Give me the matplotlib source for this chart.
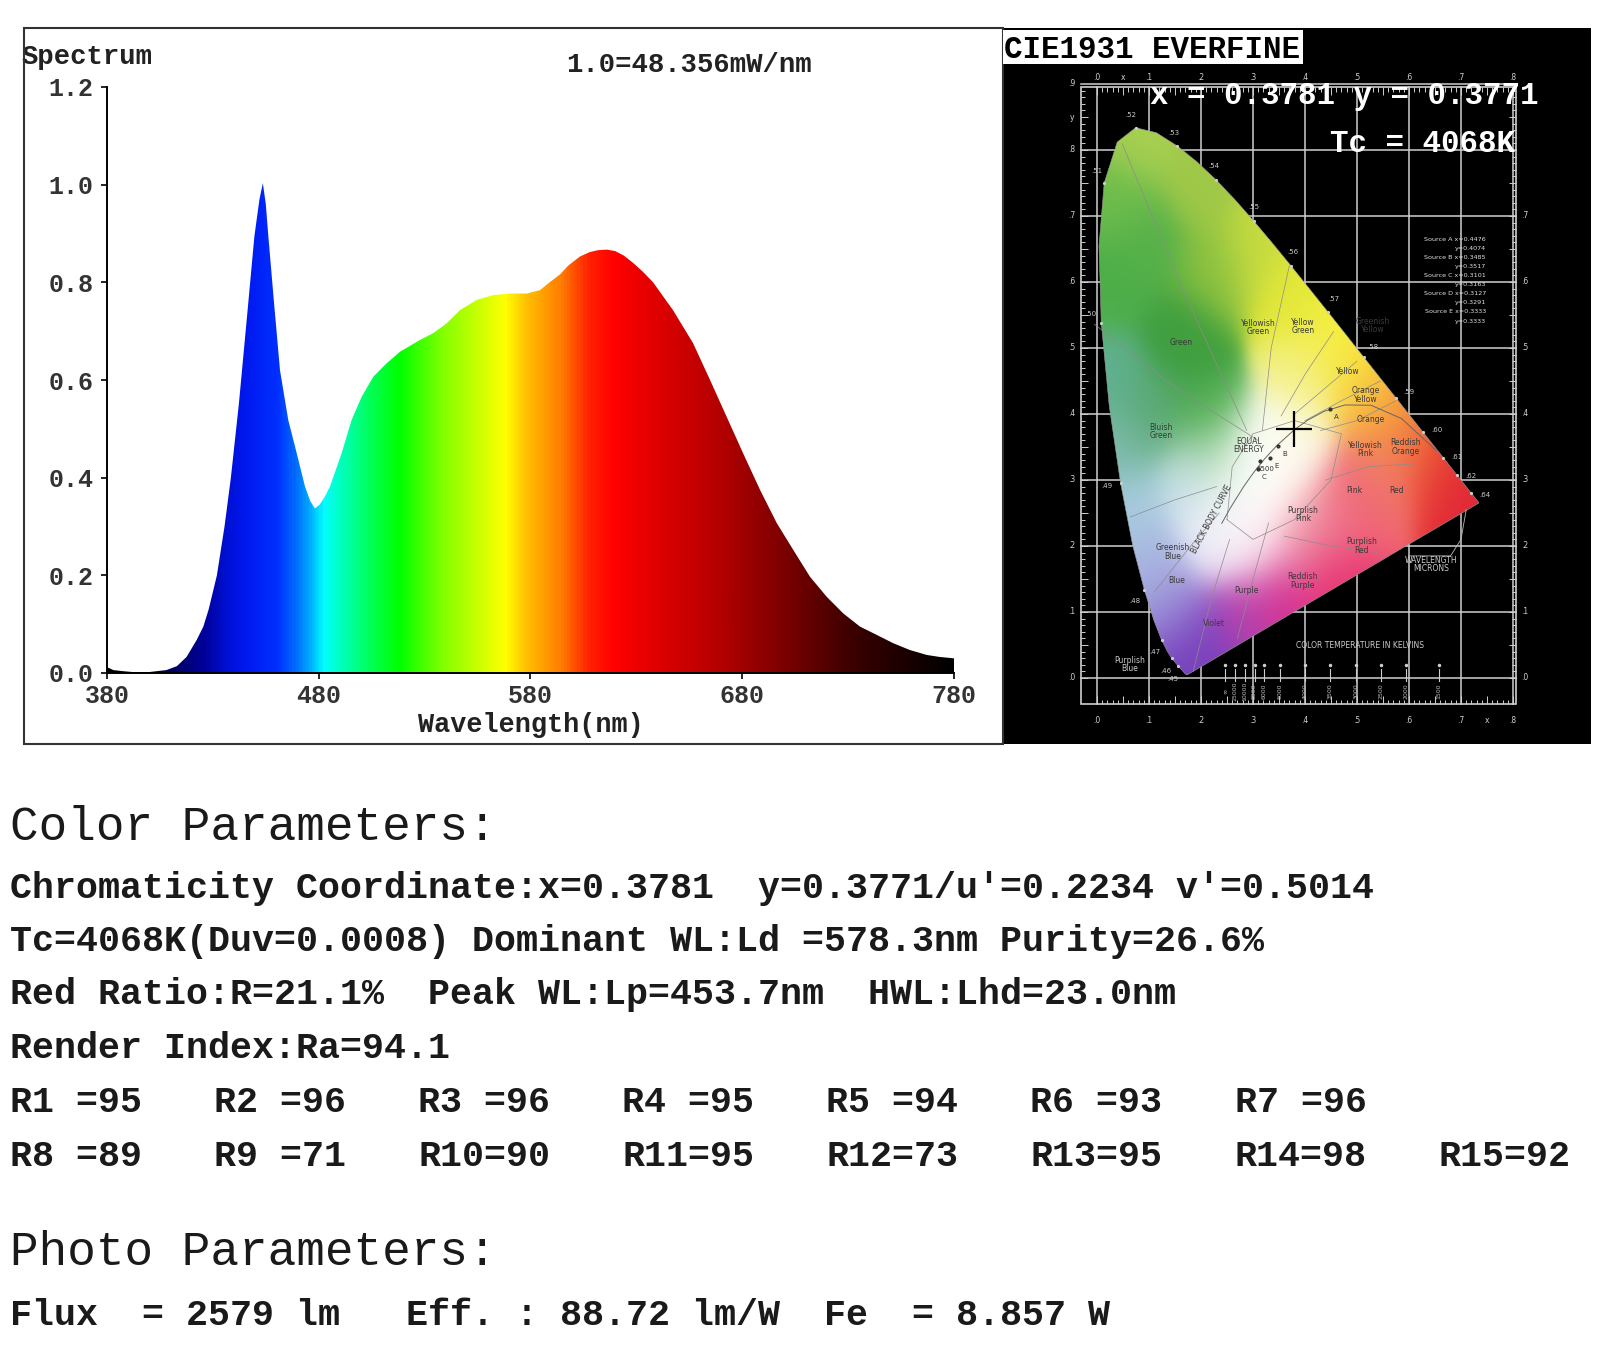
import matplotlib
matplotlib.use("Agg")
import matplotlib.pyplot as plt
import numpy as np
from matplotlib.colors import LinearSegmentedColormap, to_rgb
from matplotlib.patches import Rectangle, Polygon
from matplotlib.collections import LineCollection

# ---------------- spectrum (relative power, 1.0 = 48.356 mW/nm) ----------------
wavelength_nm = [380, 383, 387, 392, 400, 408, 413, 417.6, 422.4, 425.5, 428, 431.9,
                 435.5, 438.5, 442.3, 446.7, 449.6, 452, 453.6, 455, 456.2, 458.9, 461.7,
                 465.6, 469.6, 473.5, 476, 478.2, 480.5, 483, 485.3, 490.8, 495.5,
                 500.3, 505.8, 512, 518.4, 527.8, 534.1, 540.4, 546.7, 554.6, 562.4,
                 570.3, 578.2, 584.5, 589, 593.9, 598, 603.4, 608, 612, 616, 620, 624,
                 628.4, 633, 637.9, 647.3, 656.7, 664.8, 672.6, 680.4, 688.4, 696.3,
                 704.1, 712, 719.9, 727.7, 735.6, 743.5, 751.3, 759.2, 767.1, 773, 780]
relative_power = [0.012, 0.006, 0.004, 0.002, 0.002, 0.006, 0.014, 0.033, 0.068, 0.095,
                  0.13, 0.20, 0.30, 0.40, 0.552, 0.757, 0.894, 0.97, 1.003, 0.96, 0.894,
                  0.757, 0.62, 0.518, 0.45, 0.382, 0.352, 0.337, 0.345, 0.362, 0.382,
                  0.45, 0.518, 0.566, 0.607, 0.634, 0.658, 0.682, 0.696, 0.716, 0.743,
                  0.764, 0.774, 0.777, 0.777, 0.784, 0.80, 0.816, 0.835, 0.853, 0.862,
                  0.866, 0.867, 0.864, 0.855, 0.84, 0.822, 0.80, 0.743, 0.676, 0.60,
                  0.525, 0.45, 0.375, 0.307, 0.252, 0.197, 0.156, 0.122, 0.095, 0.078,
                  0.061, 0.047, 0.037, 0.033, 0.030]
spec_xticks = [380, 480, 580, 680, 780]
spec_yticks = [0.0, 0.2, 0.4, 0.6, 0.8, 1.0, 1.2]

# ---------------- CIE 1931 spectral locus ----------------
locus_wl = [380, 400, 420, 430, 440, 450, 460, 465, 470, 475, 480, 485, 490, 495, 500,
            505, 510, 515, 520, 525, 530, 535, 540, 545, 550, 555, 560, 565, 570, 575,
            580, 585, 590, 595, 600, 610, 620, 630, 640, 650, 660, 680, 700]
locus_x = [0.1741, 0.1733, 0.1714, 0.1689, 0.1644, 0.1566, 0.1440, 0.1355, 0.1241,
           0.1096, 0.0913, 0.0687, 0.0454, 0.0235, 0.0082, 0.0039, 0.0139, 0.0389,
           0.0743, 0.1142, 0.1547, 0.1929, 0.2296, 0.2658, 0.3016, 0.3373, 0.3731,
           0.4087, 0.4441, 0.4788, 0.5125, 0.5448, 0.5752, 0.6029, 0.6270, 0.6658,
           0.6915, 0.7079, 0.7190, 0.7260, 0.7300, 0.7334, 0.7347]
locus_y = [0.0050, 0.0048, 0.0051, 0.0069, 0.0109, 0.0177, 0.0297, 0.0399, 0.0578,
           0.0868, 0.1327, 0.2007, 0.2950, 0.4127, 0.5384, 0.6548, 0.7502, 0.8120,
           0.8338, 0.8262, 0.8059, 0.7816, 0.7543, 0.7243, 0.6923, 0.6589, 0.6245,
           0.5896, 0.5547, 0.5202, 0.4866, 0.4544, 0.4242, 0.3965, 0.3725, 0.3340,
           0.3083, 0.2920, 0.2809, 0.2740, 0.2700, 0.2666, 0.2653]
locus_marks = [450, 460, 470, 480, 490, 500, 510, 520, 530, 540, 550, 560, 570, 580,
               590, 600, 610, 620, 640]

planck_x = [0.6528, 0.5857, 0.5267, 0.4770, 0.4369, 0.4053, 0.3805, 0.3451, 0.3221,
            0.3064, 0.2952, 0.2807, 0.2565, 0.2399]
planck_y = [0.3444, 0.3931, 0.4133, 0.4137, 0.4041, 0.3907, 0.3768, 0.3516, 0.3318,
            0.3166, 0.3048, 0.2884, 0.2577, 0.2343]

source_names = ["A", "B", "C", "6500", "E"]
source_x = [0.4476, 0.3485, 0.3101, 0.3127, 0.3333]
source_y = [0.4074, 0.3517, 0.3163, 0.3291, 0.3333]

kelvin_x = [0.247, 0.265, 0.284, 0.303, 0.322, 0.352, 0.400, 0.449, 0.498, 0.546, 0.595, 0.658]
kelvin_labels = ["\u221e", "25000", "10000", "8000", "6000", "5000", "4000", "3500",
                 "3000", "2500", "2000", "1500"]

region_names = ["Green", "Yellowish\nGreen", "Yellow\nGreen", "Greenish\nYellow", "Yellow",
                "Orange\nYellow", "Orange", "Reddish\nOrange", "Yellowish\nPink", "Pink",
                "Red", "Purplish\nPink", "Purplish\nRed", "Reddish\nPurple", "Purple",
                "Violet", "Blue", "Greenish\nBlue", "Bluish\nGreen", "EQUAL\nENERGY"]
region_x = [0.161, 0.31, 0.396, 0.531, 0.483, 0.516, 0.527, 0.594, 0.516, 0.494,
            0.576, 0.396, 0.509, 0.396, 0.288, 0.224, 0.153, 0.146, 0.123, 0.292]
region_y = [0.509, 0.531, 0.533, 0.534, 0.465, 0.429, 0.391, 0.35, 0.346, 0.284,
            0.284, 0.248, 0.2, 0.147, 0.133, 0.082, 0.147, 0.191, 0.373, 0.352]

region_lines = [
    [(0.048, 0.81), (0.17, 0.58), (0.288, 0.375)],
    [(0.318, 0.375), (0.335, 0.50), (0.37, 0.625)],
    [(0.354, 0.397), (0.40, 0.46), (0.455, 0.525)],
    [(0.38, 0.40), (0.44, 0.44), (0.50, 0.48)],
    [(0.40, 0.39), (0.47, 0.42), (0.545, 0.45)],
    [(0.43, 0.375), (0.50, 0.39), (0.575, 0.42)],
    [(-0.005, 0.536), (0.15, 0.44), (0.31, 0.36)],
    [(0.064, 0.244), (0.15, 0.27), (0.23, 0.29)],
    [(0.11, 0.13), (0.18, 0.20), (0.235, 0.25)],
    [(0.185, 0.01), (0.22, 0.12), (0.255, 0.21)],
    [(0.27, 0.06), (0.30, 0.15), (0.33, 0.235)],
    [(0.36, 0.215), (0.45, 0.20), (0.54, 0.19)],
    [(0.44, 0.30), (0.52, 0.32), (0.62, 0.325)],
    [(0.25, 0.24), (0.26, 0.32), (0.30, 0.37), (0.38, 0.39), (0.47, 0.37),
     (0.45, 0.30), (0.38, 0.24), (0.30, 0.21), (0.25, 0.24)],
]

# colour field of the printed chart (anchor x, y, colour)
field_x = [0.08, 0.04, 0.02, 0.10, 0.16, 0.22, 0.20, 0.30, 0.38, 0.45, 0.50, 0.40,
           0.53, 0.56, 0.60, 0.66, 0.72, 0.55, 0.50, 0.45, 0.40, 0.45, 0.35, 0.28,
           0.20, 0.17, 0.14, 0.10, 0.06, 0.04, 0.02, 0.10, 0.21, 0.24, 0.30, 0.33,
           0.27, 0.30, 0.36, 0.38, 0.22, 0.18]
field_y = [0.82, 0.72, 0.60, 0.65, 0.52, 0.62, 0.75, 0.65, 0.58, 0.52, 0.47, 0.45,
           0.43, 0.40, 0.37, 0.32, 0.27, 0.32, 0.27, 0.25, 0.22, 0.17, 0.12, 0.09,
           0.04, 0.02, 0.10, 0.17, 0.25, 0.35, 0.45, 0.40, 0.39, 0.33, 0.32, 0.33,
           0.25, 0.20, 0.30, 0.36, 0.22, 0.30]
field_c = ["#a8d050", "#6cbc4c", "#4cae48", "#54b04a", "#3e9e3e", "#88c040", "#a0c848",
           "#c8dc40", "#e4e838", "#f4f040", "#f8e840", "#f4f088", "#f8c040", "#f8a040",
           "#f07038", "#e83c34", "#e02838", "#f08070", "#f06070", "#f08090", "#f0a8b8",
           "#e83070", "#d83090", "#b040b0", "#8040c0", "#7040b8", "#9a8cd8", "#a8b4e0",
           "#a8cce0", "#80bcb0", "#60b090", "#58a870", "#48a848", "#c8e8c8", "#ffffff",
           "#ffffff", "#ffffff", "#fce8f0", "#fff8f0", "#fafae0", "#ececf8", "#c8e0e8"]

# ---------------- text ----------------
color_lines = [
    "Chromaticity Coordinate:x=0.3781  y=0.3771/u'=0.2234 v'=0.5014",
    "Tc=4068K(Duv=0.0008) Dominant WL:Ld =578.3nm Purity=26.6%",
    "Red Ratio:R=21.1%  Peak WL:Lp=453.7nm  HWL:Lhd=23.0nm",
    "Render Index:Ra=94.1",
]
ri_row1 = ["R1 =95", "R2 =96", "R3 =96", "R4 =95", "R5 =94", "R6 =93", "R7 =96"]
ri_row2 = ["R8 =89", "R9 =71", "R10=90", "R11=95", "R12=73", "R13=95", "R14=98", "R15=92"]
photo_line = "Flux  = 2579 lm   Eff. : 88.72 lm/W  Fe  = 8.857 W"

spectrum_colors = [(380, "#000000"), (395, "#000030"), (410, "#000060"), (425, "#000098"),
                   (435, "#0010d0"), (445, "#0018f0"), (460, "#0030ff"), (468, "#0068ff"),
                   (476, "#00b0ff"), (482, "#00ffff"), (492, "#00ffb0"), (505, "#00ff50"),
                   (518, "#00ff00"), (538, "#80ff00"), (555, "#c8ff00"), (568, "#ffff00"),
                   (578, "#ffc000"), (594, "#ff8000"), (608, "#ff2000"), (620, "#ff0000"),
                   (645, "#d80000"), (670, "#b40000"), (690, "#900000"), (710, "#680000"),
                   (735, "#380000"), (760, "#180000"), (780, "#000000")]

W, H = 1600, 1353
plt.rcParams["font.family"] = ["Liberation Mono", "DejaVu Sans Mono"]
fig = plt.figure(figsize=(W / 100, H / 100), dpi=100)


def ftext(px, py, s, **kw):
    return fig.text(px / W, 1 - py / H, s, **kw)


def frect(x0, y0, x1, y1, **kw):
    r = Rectangle((x0 / W, 1 - y1 / H), (x1 - x0) / W, (y1 - y0) / H,
                  transform=fig.transFigure, **kw)
    fig.add_artist(r)
    return r


# ---------------- spectrum panel ----------------
frect(24, 28, 1003, 744, facecolor="none", edgecolor="#333333", lw=1.5, zorder=5)

ax = fig.add_axes([107 / W, 1 - 673 / H, (954 - 107) / W, (673 - 87) / H])
ax.set_facecolor("none")
verts = [(wavelength_nm[0], 0)] + list(zip(wavelength_nm, relative_power)) + [(wavelength_nm[-1], 0)]
poly = Polygon(verts, closed=True, facecolor="none", edgecolor="none")
ax.add_patch(poly)
stops = [((w - 380) / 400, c) for w, c in spectrum_colors]
cmap = LinearSegmentedColormap.from_list("spec", stops)
grad = cmap(np.linspace(0, 1, 801))[None, :, :]
ax.imshow(grad, extent=(380, 780, 0, 1.2), aspect="auto", origin="lower",
          clip_path=poly, interpolation="bilinear")
ax.set_xlim(380, 780)
ax.set_ylim(0, 1.2)
ax.spines["top"].set_visible(False)
ax.spines["right"].set_visible(False)
for s in ["left", "bottom"]:
    ax.spines[s].set_linewidth(1.4)
ax.set_xticks(spec_xticks, [str(t) for t in spec_xticks], fontsize=18, fontweight="bold", color="#333333")
ax.set_yticks(spec_yticks, ["%.1f" % t for t in spec_yticks], fontsize=18, fontweight="bold", color="#333333")
ax.tick_params(axis="both", direction="out", length=4.3, width=1.2)
ax.tick_params(axis="y", pad=5.5)
ax.tick_params(axis="x", pad=3.5)

ftext(22, 64, "Spectrum", fontsize=19.6, fontweight="bold", color="#222222", va="baseline")
ftext(566, 72, "1.0=48.356mW/nm", fontsize=19.6, fontweight="bold", color="#222222", va="baseline")
ftext(530.5, 732, "Wavelength(nm)", fontsize=19.4, fontweight="bold", color="#222222",
      va="baseline", ha="center")

# ---------------- CIE panel ----------------
CX0, CSX, CY0, CSY = 1097, 520, 678, 660
cie = fig.add_axes([1003 / W, 1 - 744 / H, (1591 - 1003) / W, (744 - 28) / H])
cie.set_facecolor("black")
cie.set_xticks([])
cie.set_yticks([])
for s in cie.spines.values():
    s.set_visible(False)

fl, fr, fb, ft = -0.03, 0.805, -0.04, 0.895
gc = "#cfcfcf"
for gx in np.arange(0, 0.81, 0.1):
    cie.plot([gx, gx], [fb, ft], color=gc, lw=1.1, zorder=1)
for gy in np.arange(0, 0.91, 0.1):
    cie.plot([fl, fr], [gy, gy], color=gc, lw=1.1, zorder=1)
cie.add_patch(Rectangle((fl, fb), fr - fl, ft - fb, facecolor="none", edgecolor=gc, lw=1.2, zorder=1))
segs = []
for v in np.arange(0, 0.801, 0.01):
    L = 0.012 if round(v * 100) % 5 == 0 else 0.007
    segs.append([(v, ft), (v, ft - L)])
    segs.append([(v, fb), (v, fb + L)])
for v in np.arange(0, 0.891, 0.01):
    L = 0.012 if round(v * 100) % 5 == 0 else 0.007
    segs.append([(fl, v), (fl + L, v)])
    segs.append([(fr, v), (fr - L, v)])
cie.add_collection(LineCollection(segs, colors=gc, linewidths=0.7, zorder=1))
tk = dict(fontsize=5.5, color="#d0d0d0", ha="center", va="center", family="DejaVu Sans")
for i in range(9):
    cie.text(i / 10, 0.91, ".%d" % i, **tk)
    cie.text(i / 10, -0.064, ".%d" % i, **tk)
for i in range(10):
    cie.text(-0.049, i / 10, ".%d" % i, **tk)
for i in range(8):
    # .8 and .9 on the right are covered by the readout text
    cie.text(0.823, i / 10, ".%d" % i, **tk)
cie.text(0.05, 0.91, "x", **tk)
cie.text(0.75, -0.064, "x", **tk)
cie.text(-0.049, 0.85, "y", **tk)

# horseshoe colour field
gxs = np.linspace(-0.01, 0.75, 380)
gys = np.linspace(0.0, 0.85, 430)
GX, GY = np.meshgrid(gxs, gys)
fx = np.array(field_x)[:, None, None]
fy = np.array(field_y)[:, None, None]
d2 = (GX[None] - fx) ** 2 + (GY[None] - fy) ** 2
wts = np.exp(-(d2 - d2.min(axis=0)) / (2 * 0.045 ** 2))
wts /= wts.sum(axis=0)
cols = np.array([to_rgb(c) for c in field_c])
img = np.einsum("kij,kc->ijc", wts, cols)
loc_poly = Polygon(list(zip(locus_x, locus_y)), closed=True, facecolor="none",
                   edgecolor="#9a9a9a", lw=0.4, zorder=3)
cie.add_patch(loc_poly)
cie.imshow(np.clip(img, 0, 1), extent=(gxs[0], gxs[-1], gys[0], gys[-1]), origin="lower",
           aspect="auto", clip_path=loc_poly, interpolation="bilinear", zorder=2)
cie.set_xlim((1003 - CX0) / CSX, (1591 - CX0) / CSX)
cie.set_ylim((CY0 - 744) / CSY, (CY0 - 28) / CSY)

for line in region_lines:
    xs, ys = zip(*line)
    cie.plot(xs, ys, color="#8c8c8c", lw=0.5, zorder=3)
cie.plot(planck_x, planck_y, color="#666666", lw=0.7, zorder=3)
for n, sx, sy in zip(source_names, source_x, source_y):
    cie.plot(sx, sy, "o", ms=2, color="#333333", zorder=4)
    cie.text(sx + 0.012, sy - 0.012, n, fontsize=5, color="#333333", family="DejaVu Sans",
             ha="center", va="center", zorder=4)
lab = dict(fontsize=5.5, color="#3a3a3a", family="DejaVu Sans", ha="center", va="center",
           linespacing=0.9, zorder=4)
for n, rx, ry in zip(region_names, region_x, region_y):
    cie.text(rx, ry, n, **lab)
cie.text(0.221, 0.241, "BLACK BODY CURVE", rotation=62, **lab)
cie.text(0.063, 0.02, "Purplish\nBlue", **dict(lab, color="#cccccc"))
cie.text(0.505, 0.049, "COLOR TEMPERATURE IN KELVINS", **dict(lab, color="#cccccc"))
cie.text(0.643, 0.172, "WAVELENGTH\nMICRONS", **dict(lab, color="#cccccc"))
cie.plot([0.60, 0.68, 0.70, 0.71], [0.185, 0.185, 0.21, 0.255], color="#bbbbbb", lw=0.6, zorder=3)

# wavelength labels on the locus
cx, cy = 0.32 * CSX, 0.33 * CSY
for wl in locus_marks:
    i = locus_wl.index(wl)
    px, py = locus_x[i] * CSX, locus_y[i] * CSY
    dx, dy = px - cx, py - cy
    nrm = np.hypot(dx, dy)
    ox, oy = locus_x[i] + 14 * dx / nrm / CSX, locus_y[i] + 14 * dy / nrm / CSY
    cie.plot(locus_x[i], locus_y[i], "o", ms=1.3, color="#cccccc", zorder=4)
    cie.text(ox, oy, ".%d" % (wl // 10), fontsize=5, color="#cccccc", family="DejaVu Sans",
             ha="center", va="center", zorder=4)

# colour temperature scale
for kx, kl in zip(kelvin_x, kelvin_labels):
    cie.plot([kx, kx], [-0.004, 0.014], color="#cccccc", lw=0.8, zorder=3)
    cie.plot(kx, 0.02, "o", ms=1.5, color="#cccccc", zorder=3)
    cie.text(kx, -0.02, kl, rotation=90, fontsize=4.5, color="#bbbbbb", family="DejaVu Sans",
             ha="center", va="center", zorder=3)

# source legend
src_lines = ["Source A x=0.4476", "y=0.4074", "Source B x=0.3485", "y=0.3517",
             "Source C x=0.3101", "y=0.3163", "Source D x=0.3127", "y=0.3291",
             "Source E x=0.3333", "y=0.3333"]
for k, t in enumerate(src_lines):
    cie.text(0.748, 0.665 - k * 0.0138, t, fontsize=4.6, color="#e0e0e0", family="DejaVu Sans",
             ha="right", va="center", zorder=3)

# measured point
cie.plot(0.3781, 0.3771, marker="+", ms=26, mew=1.6, color="black", zorder=6)

frect(1003, 30, 1303, 64, facecolor="white", edgecolor="none", zorder=5)
ftext(1004, 58, "CIE1931 EVERFINE", fontsize=22.2, fontweight="bold", color="black", va="baseline", zorder=6)
ftext(1150, 104, "x = 0.3781 y = 0.3771", fontsize=22.2, fontweight="bold", color="white", va="baseline", zorder=6)
ftext(1330, 152, "Tc = 4068K", fontsize=22.2, fontweight="bold", color="white", va="baseline", zorder=6)

# ---------------- parameter text ----------------
ftext(10, 840, "Color Parameters:", fontsize=34.3, color="#1a1a1a", va="baseline")
for k, line in enumerate(color_lines):
    ftext(10, 898 + k * 53.2, line, fontsize=26.4, fontweight="bold", color="#1a1a1a", va="baseline")
for k, t in enumerate(ri_row1):
    ftext(10 + k * 204.1, 1112, t, fontsize=26.4, fontweight="bold", color="#1a1a1a", va="baseline")
for k, t in enumerate(ri_row2):
    ftext(10 + k * 204.1, 1166, t, fontsize=26.4, fontweight="bold", color="#1a1a1a", va="baseline")
ftext(10, 1265, "Photo Parameters:", fontsize=34.3, color="#1a1a1a", va="baseline")
ftext(10, 1325, photo_line, fontsize=26.4, fontweight="bold", color="#1a1a1a", va="baseline")

fig.savefig("out.png", dpi=100)
